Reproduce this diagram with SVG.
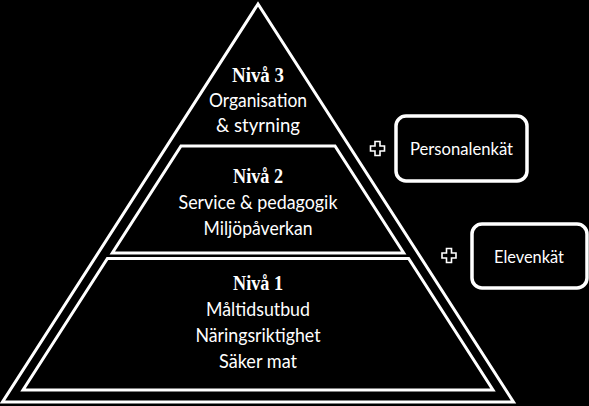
<svg xmlns="http://www.w3.org/2000/svg" width="589" height="406" viewBox="0 0 589 406">
<style>
.shape{fill:#000;stroke:#fff;stroke-width:3;stroke-linejoin:miter}
.box{fill:#000;stroke:#fff;stroke-width:3.5}
.plus{fill:#000;stroke:#fff;stroke-width:1.6}
.h{font-family:"Liberation Serif",serif;font-weight:bold;font-size:20.5px;fill:#fff;text-anchor:middle}
.t{font-family:Lato,"Open Sans",sans-serif;font-size:18.5px;fill:#fff;text-anchor:middle}
.b{font-family:Lato,"Open Sans",sans-serif;font-size:18px;fill:#fff;text-anchor:middle}
</style>
<defs>
<path id="plusShape" d="M-2.5,-7 H2.5 V-2.5 H7 V2.5 H2.5 V7 H-2.5 V2.5 H-7 V-2.5 H-2.5 Z"/>
</defs>
<rect x="0" y="0" width="589" height="406" fill="#000"/>
<g id="niva3">
<polygon class="shape" points="258,4 2.5,402 513.5,402"/>
<text class="h" x="258" y="82" textLength="52" lengthAdjust="spacingAndGlyphs">Nivå 3</text>
<text class="t" x="258" y="107" textLength="98" lengthAdjust="spacingAndGlyphs">Organisation</text>
<text class="t" x="258" y="132" textLength="84" lengthAdjust="spacingAndGlyphs">&amp; styrning</text>
</g>
<g id="niva2">
<polygon class="shape" points="181,146 335,146 403.7,253 112.3,253"/>
<text class="h" x="258" y="183" textLength="50" lengthAdjust="spacingAndGlyphs">Nivå 2</text>
<text class="t" x="258" y="209" textLength="159" lengthAdjust="spacingAndGlyphs">Service &amp; pedagogik</text>
<text class="t" x="258" y="235" textLength="109" lengthAdjust="spacingAndGlyphs">Miljöpåverkan</text>
</g>
<g id="niva1">
<polygon class="shape" points="107.4,258.5 408.6,258.5 493,390 23,390"/>
<text class="h" x="258" y="290" textLength="50" lengthAdjust="spacingAndGlyphs">Nivå 1</text>
<text class="t" x="258" y="316" textLength="104" lengthAdjust="spacingAndGlyphs">Måltidsutbud</text>
<text class="t" x="258" y="342" textLength="125" lengthAdjust="spacingAndGlyphs">Näringsriktighet</text>
<text class="t" x="258" y="368" textLength="78" lengthAdjust="spacingAndGlyphs">Säker mat</text>
</g>
<g id="personalenkat">
<use href="#plusShape" class="plus" x="377.5" y="148.5"/>
<rect class="box" x="396" y="116" width="131" height="65" rx="10"/>
<text class="b" x="461.5" y="155" textLength="103" lengthAdjust="spacingAndGlyphs">Personalenkät</text>
</g>
<g id="elevenkat">
<use href="#plusShape" class="plus" x="449" y="255.5"/>
<rect class="box" x="472" y="224" width="115" height="64" rx="10"/>
<text class="b" x="529" y="262.5" textLength="70" lengthAdjust="spacingAndGlyphs">Elevenkät</text>
</g>
<g id="connectors"></g>
</svg>
